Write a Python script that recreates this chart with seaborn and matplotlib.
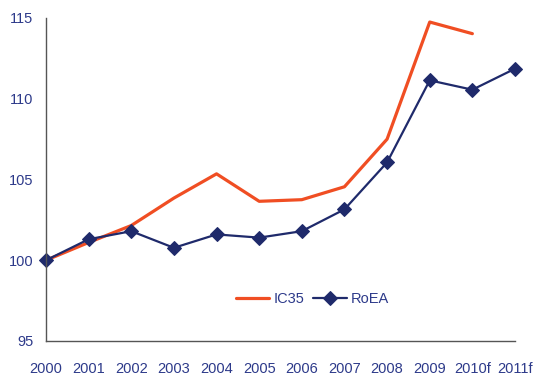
import matplotlib
matplotlib.use("Agg")
import matplotlib.pyplot as plt
import seaborn as sns
import pandas as pd
import numpy as np

years = ["2000", "2001", "2002", "2003", "2004", "2005", "2006",
         "2007", "2008", "2009", "2010f", "2011f"]
ic35 = [100.0, 101.1, 102.15, 103.85, 105.35, 103.65, 103.75,
        104.55, 107.5, 114.75, 114.03, np.nan]
roea = [100.0, 101.3, 101.8, 100.77, 101.6, 101.4, 101.8,
        103.15, 106.06, 111.14, 110.56, 111.86]

sns.set_theme(style="white")
plt.rcParams["font.family"] = ["Liberation Sans", "DejaVu Sans"]

text_color = "#2d3a8a"
orange = "#f04e23"
navy = "#1f2a6b"

df = pd.DataFrame({"pos": np.arange(len(years)), "IC35": ic35, "RoEA": roea})

fig = plt.figure(figsize=(5.34, 3.76), dpi=100)
ax = fig.add_axes([46 / 534, 1 - 341 / 376, (515 - 46) / 534, (341 - 18) / 376])

sns.lineplot(data=df, x="pos", y="IC35", ax=ax, color=orange, linewidth=2.3,
             label="IC35", sort=False)
sns.lineplot(data=df, x="pos", y="RoEA", ax=ax, color=navy, linewidth=1.6,
             marker="D", markersize=7, markeredgecolor=navy,
             markerfacecolor=navy, label="RoEA", sort=False)
for line in ax.get_lines():
    line.set_clip_on(False)

ax.set_xlim(0, len(years) - 1)
ax.set_ylim(95, 115)
ax.set_xticks(np.arange(len(years)))
ax.set_xticklabels(years)
ax.set_yticks([95, 100, 105, 110, 115])
ax.set_xlabel("")
ax.set_ylabel("")
ax.tick_params(axis="both", length=0, labelsize=10.5, labelcolor=text_color)
ax.tick_params(axis="x", pad=15)
ax.tick_params(axis="y", pad=9)

for side in ["top", "right"]:
    ax.spines[side].set_visible(False)
for side in ["left", "bottom"]:
    ax.spines[side].set_color("#555555")
    ax.spines[side].set_linewidth(1.0)

leg = ax.legend(loc="center", bbox_to_anchor=(0.568, 0.13), ncol=2, frameon=False,
                fontsize=10.5, handlelength=2.3, columnspacing=0.6,
                handletextpad=0.3)
for t in leg.get_texts():
    t.set_color(text_color)

fig.savefig("out.png", dpi=100)
